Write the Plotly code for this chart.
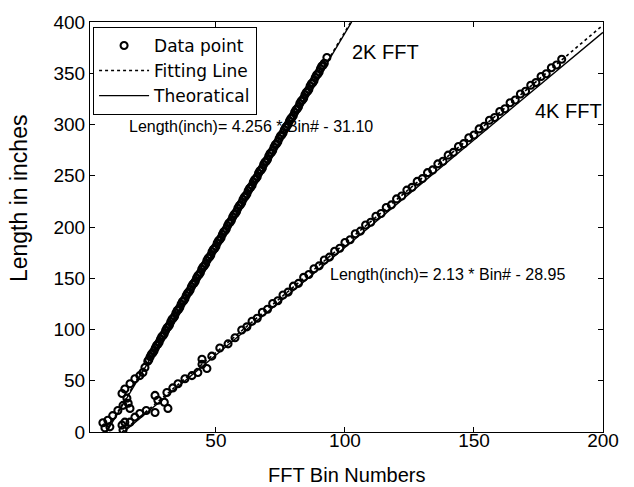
import plotly.graph_objects as go

# ---- data ----
bins_2k = [6.2, 7.0, 8.1, 8.9, 10.0, 12.0, 14.0, 16.0, 16.7, 15.5, 13.6, 14.7, 16.7, 18.6, 20.5, 21.7, 22.5, 23.6,
           24, 25, 26, 27, 28, 29, 30, 31, 32, 33, 34, 35, 36, 37, 38, 39, 40, 41, 42, 43, 44, 45, 46, 47, 48, 49,
           50, 51, 52, 53, 54, 55, 56, 57, 58, 59, 60, 61, 62, 63, 64, 65, 66, 67, 68, 69, 70, 71, 72, 73, 74, 75,
           76, 77, 78, 79, 80, 81, 82, 83, 84, 85, 86, 87, 88, 89, 90, 91, 92, 93]
len_2k = [9, 4, 11.5, 5, 16, 21, 26, 28, 23, 33, 37.6, 42, 47, 52, 55, 58, 63, 69,
          70.4, 76.0, 79.0, 84.5, 87.5, 93.0, 96.0, 101.5, 104.4, 110.0, 113.0, 118.5, 121.5, 127.0, 130.0, 135.5,
          138.5, 144.0, 147.0, 152.5, 155.5, 161.0, 164.0, 169.5, 172.5, 178.0, 181.0, 186.6, 189.6, 195.1, 198.1,
          203.6, 206.6, 212.1, 215.1, 220.6, 223.6, 229.1, 232.1, 237.6, 240.6, 246.1, 249.1, 254.7, 257.6, 263.2,
          266.1, 271.7, 274.6, 280.2, 283.1, 288.7, 291.7, 297.2, 300.2, 305.7, 308.7, 314.2, 317.2, 322.8, 325.7,
          331.3, 334.2, 339.8, 342.7, 348.3, 351.2, 356.8, 359.8, 365.3]
# in-between 2K samples (the 2K trace is a solid band of circles)
bins_2k_mid = [24.5, 25.5, 26.5, 27.5, 28.5, 29.5, 30.5, 31.5, 32.5, 33.5, 34.5, 35.5, 36.5, 37.5, 38.5, 39.5,
               40.5, 41.5, 42.5, 43.5, 44.5, 45.5, 46.5, 47.5, 48.5, 49.5, 50.5, 51.5, 52.5, 53.5, 54.5, 55.5,
               56.5, 57.5, 58.5, 59.5, 60.5, 61.5, 62.5, 63.5, 64.5, 65.5, 66.5, 67.5, 68.5, 69.5, 70.5, 71.5,
               72.5, 73.5, 74.5, 75.5, 76.5, 77.5, 78.5, 79.5, 80.5, 81.5, 82.5, 83.5, 84.5, 85.5, 86.5, 87.5,
               88.5, 89.5, 90.5, 91.5]
len_2k_mid = [73.5, 77.0, 82.0, 85.5, 90.6, 94.0, 99.1, 102.6, 107.6, 111.1, 116.2, 119.6, 124.7, 128.1, 133.2,
              136.6, 141.7, 145.1, 150.3, 153.6, 158.8, 162.1, 167.3, 170.6, 175.8, 179.1, 184.3, 187.7, 192.8,
              196.2, 201.3, 204.7, 209.8, 213.2, 218.3, 221.7, 226.8, 230.2, 235.3, 238.8, 243.9, 247.2, 252.4,
              255.7, 260.9, 264.2, 269.4, 272.7, 277.9, 281.2, 286.4, 289.7, 294.9, 298.2, 303.4, 306.8, 311.9,
              315.3, 320.4, 323.8, 329.0, 332.3, 337.5, 340.8, 346.0, 349.3, 354.5, 357.8]

bins_4k = [13.6, 14.0, 14.7, 16.7, 18.6, 20.5, 23.0, 26.4, 27.5, 26.4, 31.4, 30.0, 31.0, 33.3, 35.3, 38.0, 40.7,
           43.0, 44.6, 44.6, 46.5, 48.4, 51.5, 54.7, 57.4,
           60, 62, 64, 66, 68, 70, 72, 74, 76, 78, 80, 82, 84, 86, 88, 90, 92, 94, 96, 98, 100, 102, 104, 106, 108,
           110, 112, 114, 116, 118, 120, 122, 124, 126, 128, 130, 132, 134, 136, 138, 140, 142, 144, 146, 148, 150,
           152, 154, 156, 158, 160, 162, 164, 166, 168, 170, 172, 174, 176, 178, 180, 182, 184]
len_4k = [6.7, 2, 9.6, 9.6, 14.5, 18, 21, 35.7, 31, 19, 23, 29, 38.6, 43, 47, 52, 55,
          58, 66, 71, 62, 74, 82, 86, 92,
          99.5, 102.6, 108.1, 111.0, 116.8, 119.7, 125.3, 128.1, 133.6, 136.5, 142.3, 145.0, 150.9, 153.7, 159.3,
          162.1, 167.8, 170.6, 176.4, 179.2, 184.9, 187.6, 193.4, 196.0, 201.9, 204.7, 210.5, 213.1, 219.0, 221.6,
          227.4, 230.2, 236.0, 238.7, 244.5, 247.2, 253.0, 255.7, 261.6, 264.2, 270.1, 272.8, 278.6, 281.3, 287.1,
          289.8, 295.7, 298.3, 304.2, 306.8, 312.7, 315.4, 321.2, 323.9, 329.8, 332.4, 338.3, 340.9, 346.8, 349.5,
          355.3, 358.0, 363.6]

fit_2k_x = [7.3, 102.3]
fit_2k_y = [0, 400]
fit_4k_x = [13.6, 200]
fit_4k_y = [0, 397]
theo_2k_x = [7.6, 102.6]
theo_2k_y = [0, 400]
theo_4k_x = [14.2, 200]
theo_4k_y = [0, 390]

x_ticks = [50, 100, 150, 200]
y_ticks = [0, 50, 100, 150, 200, 250, 300, 350, 400]

FONT = "Liberation Sans, Arial, Helvetica, sans-serif"
LEGFONT = "DejaVu Sans, Arial, sans-serif"

fig = go.Figure()
marker = dict(symbol="circle-open", size=7, color="black", line=dict(width=2.1, color="black"))
fig.add_trace(go.Scatter(x=bins_2k + bins_2k_mid, y=len_2k + len_2k_mid, mode="markers", marker=marker,
                         name="Data point", legendgroup="d", showlegend=True))
fig.add_trace(go.Scatter(x=bins_4k, y=len_4k, mode="markers", marker=marker, name="Data point",
                         legendgroup="d", showlegend=False))
fig.add_trace(go.Scatter(x=fit_2k_x, y=fit_2k_y, mode="lines", line=dict(color="black", width=1.6, dash="dot"),
                         name="Fitting Line", legendgroup="f", showlegend=True))
fig.add_trace(go.Scatter(x=fit_4k_x, y=fit_4k_y, mode="lines", line=dict(color="black", width=1.6, dash="dot"),
                         name="Fitting Line", legendgroup="f", showlegend=False))
fig.add_trace(go.Scatter(x=theo_2k_x, y=theo_2k_y, mode="lines", line=dict(color="black", width=1.4),
                         name="Theoratical", legendgroup="t", showlegend=True))
fig.add_trace(go.Scatter(x=theo_4k_x, y=theo_4k_y, mode="lines", line=dict(color="black", width=1.4),
                         name="Theoratical", legendgroup="t", showlegend=False))

axis_common = dict(showline=True, linecolor="black", linewidth=1, mirror="ticks", ticks="inside",
                   ticklen=5, tickcolor="black", showgrid=False, zeroline=False,
                   tickfont=dict(family=FONT, size=19, color="black"))
fig.update_xaxes(range=[1.2, 200], tickvals=x_ticks, ticklabelstandoff=-9, **axis_common)
fig.update_yaxes(range=[0, 400], tickvals=y_ticks, **axis_common)

annots = [
    dict(x=15.5, y=298, text="Length(inch)= 4.256 * Bin# - 31.10", xanchor="left", yanchor="middle",
         showarrow=False, font=dict(family=FONT, size=16, color="black")),
    dict(x=93.4, y=154, text="Length(inch)= 2.13 * Bin# - 28.95", xanchor="left", yanchor="middle",
         showarrow=False, font=dict(family=FONT, size=16, color="black")),
    dict(x=102, y=371, text="2K FFT", xanchor="left", yanchor="middle",
         showarrow=False, font=dict(family=FONT, size=20, color="black")),
    dict(x=172.9, y=313, text="4K FFT", xanchor="left", yanchor="middle",
         showarrow=False, font=dict(family=FONT, size=20, color="black")),
    dict(x=0.5, y=-0.106, xref="paper", yref="paper", text="FFT Bin Numbers", xanchor="center",
         yanchor="middle", showarrow=False, font=dict(family=FONT, size=20, color="black")),
    dict(x=-0.138, y=0.571, xref="paper", yref="paper", text="Length in inches", textangle=-90,
         xanchor="center", yanchor="middle", showarrow=False, font=dict(family=FONT, size=23, color="black")),
]

fig.update_layout(
    width=634, height=487,
    margin=dict(l=90, r=31, t=17, b=55),
    paper_bgcolor="white", plot_bgcolor="white",
    font=dict(family=FONT, color="black"),
    annotations=annots,
    legend=dict(x=0.006, y=0.988, xanchor="left", yanchor="top", bgcolor="white",
                bordercolor="black", borderwidth=1, font=dict(family=LEGFONT, size=17, color="black"),
                itemwidth=50, tracegroupgap=0),
)

fig.write_html("out.html")
